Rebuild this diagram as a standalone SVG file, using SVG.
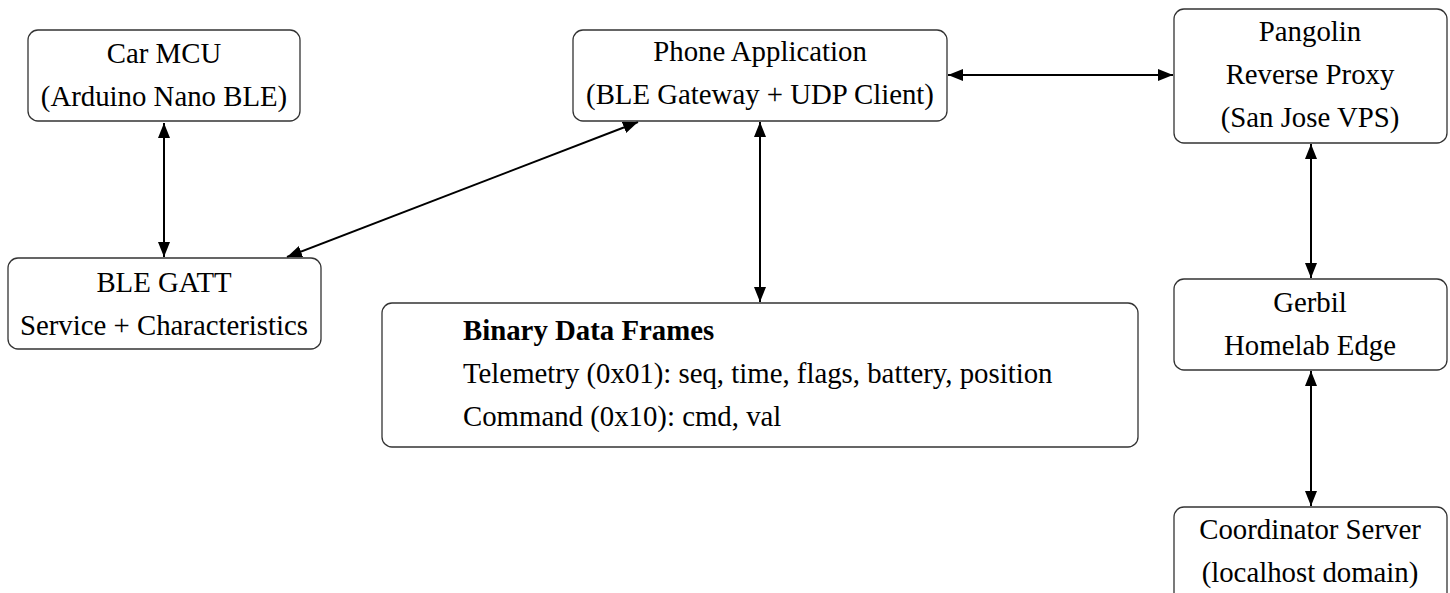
<svg xmlns="http://www.w3.org/2000/svg" width="1450" height="593" viewBox="0 0 1450 593">
  <style>
    .box { fill: #ffffff; stroke: #333333; stroke-width: 1.3; }
    .lbl { font-family: "Liberation Serif", "Times New Roman", serif; font-size: 28.8px; fill: #000000; }
    .mid { text-anchor: middle; }
    .bold { font-weight: bold; }
    .edge { stroke: #000000; stroke-width: 2; fill: none; marker-start: url(#head); marker-end: url(#head); }
  </style>
  <defs>
    <marker id="head" viewBox="0 0 15 12" refX="15" refY="6" markerWidth="15" markerHeight="12" markerUnits="userSpaceOnUse" orient="auto-start-reverse">
      <path d="M0,0 L15,6 L0,12 Z" fill="#000000"/>
    </marker>
  </defs>

  <g id="connectors">
    <line class="edge" x1="164" y1="123" x2="164" y2="257"/>
    <line class="edge" x1="287" y1="257" x2="638" y2="122"/>
    <line class="edge" x1="760" y1="122" x2="760" y2="302"/>
    <line class="edge" x1="948" y1="75" x2="1173" y2="75"/>
    <line class="edge" x1="1311" y1="144" x2="1311" y2="278"/>
    <line class="edge" x1="1311" y1="371" x2="1311" y2="506"/>
  </g>

  <g id="car-mcu">
    <rect class="box" x="28" y="30" width="272" height="91" rx="10"/>
    <text class="lbl mid" x="164" y="63">Car MCU</text>
    <text class="lbl mid" x="164" y="106">(Arduino Nano BLE)</text>
  </g>

  <g id="ble-gatt">
    <rect class="box" x="8" y="258" width="313" height="91" rx="10"/>
    <text class="lbl mid" x="164" y="292">BLE GATT</text>
    <text class="lbl mid" x="164" y="335">Service + Characteristics</text>
  </g>

  <g id="phone-app">
    <rect class="box" x="573" y="30" width="374" height="91" rx="10"/>
    <text class="lbl mid" x="760" y="61">Phone Application</text>
    <text class="lbl mid" x="760" y="104">(BLE Gateway + UDP Client)</text>
  </g>

  <g id="data-frames">
    <rect class="box" x="382" y="303" width="756" height="144" rx="10"/>
    <text class="lbl bold" x="463" y="340">Binary Data Frames</text>
    <text class="lbl" x="463" y="383">Telemetry (0x01): seq, time, flags, battery, position</text>
    <text class="lbl" x="463" y="426">Command (0x10): cmd, val</text>
  </g>

  <g id="pangolin">
    <rect class="box" x="1174" y="9" width="273" height="134" rx="10"/>
    <text class="lbl mid" x="1310" y="41">Pangolin</text>
    <text class="lbl mid" x="1310" y="84">Reverse Proxy</text>
    <text class="lbl mid" x="1310" y="127">(San Jose VPS)</text>
  </g>

  <g id="gerbil">
    <rect class="box" x="1174" y="279" width="273" height="91" rx="10"/>
    <text class="lbl mid" x="1310" y="312">Gerbil</text>
    <text class="lbl mid" x="1310" y="355">Homelab Edge</text>
  </g>

  <g id="coordinator">
    <rect class="box" x="1174" y="507" width="273" height="100" rx="10"/>
    <text class="lbl mid" x="1310" y="539">Coordinator Server</text>
    <text class="lbl mid" x="1310" y="582">(localhost domain)</text>
  </g>
</svg>
